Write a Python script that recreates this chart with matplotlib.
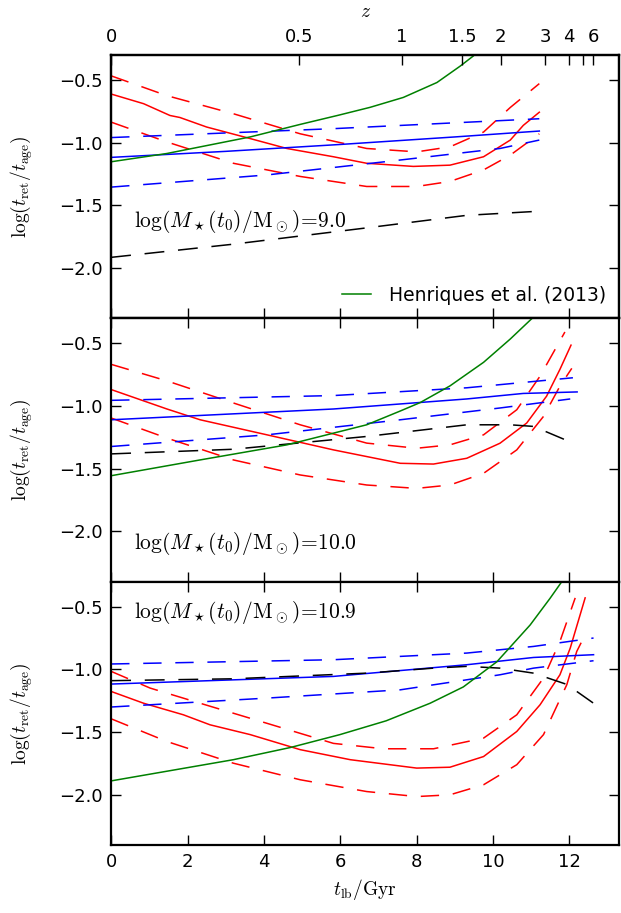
import numpy as np
import matplotlib
matplotlib.use("Agg")
import matplotlib.pyplot as plt

plt.rcParams['mathtext.fontset'] = 'cm'
plt.rcParams['font.family'] = ['DejaVu Sans']

# ---------------- data ----------------
mass_labels = ['9.0', '10.0', '10.9']
label_y = [-1.63, -2.10, -0.55]

# Panel 1: log M = 9.0
p1_red_t = [0, 0.85, 1.54, 1.8, 2.5, 3.64, 4.6, 5.82, 6.69, 7.91, 8.87, 9.75, 10.45, 10.79, 11.21]
p1_red = [-0.613, -0.69, -0.784, -0.80, -0.876, -0.968, -1.047, -1.113, -1.165, -1.19, -1.18, -1.113, -0.98, -0.863, -0.758]
p1_redd_t = [0, 1.46, 3.2, 4.95, 6.69, 8.0, 8.87, 9.75, 10.45, 11.21]
p1_red_hi = [-0.468, -0.626, -0.77, -0.93, -1.047, -1.074, -1.034, -0.916, -0.72, -0.53]
p1_red_lo = [-0.837, -0.995, -1.165, -1.27, -1.35, -1.35, -1.31, -1.218, -1.10, -0.93]
p1_blue_t = [0, 3, 6, 9, 11.21]
p1_blue = [-1.118, -1.07, -1.015, -0.955, -0.908]
p1_blue_hi_t = [0, 5.82, 11.21]
p1_blue_hi = [-0.96, -0.889, -0.81]
p1_blue_lo_t = [0, 4.08, 7.57, 10.18, 11.21]
p1_blue_lo = [-1.355, -1.258, -1.139, -1.047, -0.98]
p1_black_t = [0, 3.2, 6.69, 9.31, 11.21]
p1_black = [-1.915, -1.81, -1.68, -1.58, -1.547]
p1_green_t = [0, 1.46, 3.64, 4.95, 5.95, 6.78, 7.65, 8.53, 9.14, 9.48]
p1_green = [-1.153, -1.087, -0.955, -0.855, -0.782, -0.719, -0.64, -0.521, -0.39, -0.31]

# Panel 2: log M = 10.0
p2_red_t = [0, 1.46, 2.33, 4.08, 5.82, 7.57, 8.44, 9.31, 10.18, 10.88, 11.4, 11.75, 12.04]
p2_red = [-0.869, -1.024, -1.11, -1.23, -1.35, -1.457, -1.463, -1.417, -1.297, -1.136, -0.922, -0.708, -0.515]
p2_red_hi_t = [0, 1.46, 3.2, 4.95, 6.69, 8.0, 8.87, 9.75, 10.62, 11.23, 11.88]
p2_red_hi = [-0.668, -0.80, -0.976, -1.15, -1.296, -1.337, -1.31, -1.23, -1.03, -0.762, -0.41]
p2_red_lo_t = [0, 1.46, 3.2, 4.95, 6.69, 8.0, 8.87, 9.75, 10.62, 11.32, 11.75, 12.06]
p2_red_lo = [-1.096, -1.256, -1.43, -1.55, -1.63, -1.657, -1.63, -1.537, -1.35, -1.083, -0.842, -0.70]
p2_blue_t = [0, 5.82, 9.31, 10.79, 12.2]
p2_blue = [-1.11, -1.024, -0.944, -0.90, -0.888]
p2_blue_hi_t = [0, 5.82, 9.31, 12.09]
p2_blue_hi = [-0.955, -0.917, -0.855, -0.775]
p2_blue_lo_t = [0, 4.08, 7.57, 10.18, 12.02]
p2_blue_lo = [-1.323, -1.23, -1.11, -1.016, -0.944]
p2_black_t = [0, 3.2, 6.69, 9.31, 10.45, 11.06, 11.97]
p2_black = [-1.382, -1.345, -1.243, -1.15, -1.15, -1.163, -1.28]
p2_green_t = [0, 2.33, 4.6, 6.69, 7.57, 8.09, 8.87, 9.75, 10.45, 11.06]
p2_green = [-1.556, -1.43, -1.31, -1.15, -1.04, -0.973, -0.84, -0.652, -0.466, -0.29]

# Panel 3: log M = 10.9
p3_red_t = [0, 0.85, 1.89, 2.59, 3.64, 4.95, 6.26, 8.0, 8.87, 9.75, 10.62, 11.23, 11.75, 12.02, 12.41]
p3_red = [-1.176, -1.27, -1.362, -1.442, -1.52, -1.64, -1.72, -1.787, -1.78, -1.695, -1.495, -1.282, -1.043, -0.83, -0.43]
p3_red_hi_t = [0, 1.02, 2.33, 4.08, 5.82, 7.13, 8.44, 9.75, 10.62, 11.32, 11.75, 12.15]
p3_red_hi = [-1.016, -1.149, -1.27, -1.43, -1.59, -1.633, -1.633, -1.548, -1.362, -1.069, -0.777, -0.43]
p3_red_lo_t = [0, 1.46, 3.2, 4.95, 6.69, 8.0, 8.87, 9.75, 10.62, 11.32, 11.93, 12.19, 12.45]
p3_red_lo = [-1.394, -1.575, -1.748, -1.88, -1.974, -2.014, -2.0, -1.92, -1.76, -1.52, -1.122, -0.857, -0.70]
p3_blue_t = [0, 5.82, 9.31, 11.06, 12.63]
p3_blue = [-1.117, -1.056, -0.963, -0.905, -0.883]
p3_blue_hi_t = [0, 5.82, 9.31, 11.06, 12.63]
p3_blue_hi = [-0.957, -0.923, -0.87, -0.817, -0.75]
p3_blue_lo_t = [0, 4.08, 7.57, 10.18, 11.06, 12.63]
p3_blue_lo = [-1.30, -1.229, -1.163, -1.043, -0.99, -0.931]
p3_black_t = [0, 3.2, 6.69, 8.44, 9.31, 10.18, 11.06, 11.93, 12.63]
p3_black = [-1.09, -1.075, -1.03, -0.99, -0.976, -0.99, -1.03, -1.12, -1.27]
p3_green_t = [0, 3.2, 4.69, 5.99, 7.2, 8.35, 9.22, 10.1, 10.97, 11.49, 11.8]
p3_green = [-1.889, -1.72, -1.623, -1.52, -1.41, -1.27, -1.14, -0.939, -0.646, -0.434, -0.3]

x_ticks = [0, 2, 4, 6, 8, 10, 12]
y_ticks = [-2.0, -1.5, -1.0, -0.5]
z_ticks = [0, 0.5, 1, 1.5, 2, 3, 4, 5, 6]
z_labels = ['0', '0.5', '1', '1.5', '2', '3', '4', '', '6']

# cosmology for the redshift axis (Millennium-like)
H0, Om, OL = 73.0, 0.25, 0.75


def lookback(z):
    zz = np.linspace(0, z, 2001)
    f = 1.0 / ((1 + zz) * np.sqrt(Om * (1 + zz) ** 3 + OL))
    return 977.8 / H0 * np.trapezoid(f, zz)


panels = [
    (p1_red_t, p1_red, p1_redd_t, p1_red_hi, p1_redd_t, p1_red_lo, p1_blue_t, p1_blue,
     p1_blue_hi_t, p1_blue_hi, p1_blue_lo_t, p1_blue_lo, p1_black_t, p1_black, p1_green_t, p1_green),
    (p2_red_t, p2_red, p2_red_hi_t, p2_red_hi, p2_red_lo_t, p2_red_lo, p2_blue_t, p2_blue,
     p2_blue_hi_t, p2_blue_hi, p2_blue_lo_t, p2_blue_lo, p2_black_t, p2_black, p2_green_t, p2_green),
    (p3_red_t, p3_red, p3_red_hi_t, p3_red_hi, p3_red_lo_t, p3_red_lo, p3_blue_t, p3_blue,
     p3_blue_hi_t, p3_blue_hi, p3_blue_lo_t, p3_blue_lo, p3_black_t, p3_black, p3_green_t, p3_green),
]

fig = plt.figure(figsize=(6.21, 9.13), dpi=100)
fig.subplots_adjust(left=0.179, right=0.997, top=0.94, bottom=0.0745, hspace=0)
axes = fig.subplots(3, 1, sharex=True)

dash = (12, 9)
RED, BLUE, GREEN = '#ff0000', '#0000ff', '#008000'
LW = 1.1

for i, (ax, d) in enumerate(zip(axes, panels)):
    (rt, r, rht, rh, rlt, rl, bt, b, bht, bh, blt, bl, kt, k, gt, g) = d
    ax.plot(rt, r, color=RED, lw=LW)
    ax.plot(rht, rh, color=RED, lw=LW, dashes=dash)
    ax.plot(rlt, rl, color=RED, lw=LW, dashes=dash)
    ax.plot(bt, b, color=BLUE, lw=LW)
    ax.plot(bht, bh, color=BLUE, lw=LW, dashes=dash)
    ax.plot(blt, bl, color=BLUE, lw=LW, dashes=dash)
    ax.plot(kt, k, color='k', lw=LW, dashes=(13, 9))
    ax.plot(gt, g, color=GREEN, lw=LW, label='Henriques et al. (2013)')
    ax.set_xlim(0, 13.3)
    ax.set_ylim(-2.4, -0.3)
    ax.set_yticks(y_ticks)
    ax.set_yticklabels(['\u22122.0', '\u22121.5', '\u22121.0', '\u22120.5'])
    ax.set_xticks(x_ticks)
    ax.tick_params(direction='in', length=7, width=1, labelsize=13,
                   top=(i != 0), right=True, pad=6)
    for s in ax.spines.values():
        s.set_linewidth(1.6)
    ax.set_ylabel(r'$\log(t_{\rm ret}/t_{\rm age})$', fontsize=14, labelpad=17)
    ax.text(0.6, label_y[i], r'$\log(M_\star(t_0)/\mathrm{M}_\odot)\!=\!' + mass_labels[i] + '$',
            fontsize=15.5, va='center', ha='left')
    if i == 0:
        ax.legend(loc='lower right', frameon=False, fontsize=13.5, handlelength=1.55,
                  handletextpad=0.95, borderaxespad=0.3)

axes[2].set_xticklabels([str(v) for v in x_ticks])
axes[2].set_xlabel(r'$t_{\rm lb}/\mathrm{Gyr}$', fontsize=14)

top = axes[0].twiny()
top.set_xlim(axes[0].get_xlim())
top.set_xticks([lookback(z) for z in z_ticks])
top.set_xticklabels(z_labels)
top.tick_params(direction='in', length=7, width=1, labelsize=13, pad=6)
top.set_xlabel(r'$z$', fontsize=14, labelpad=8)
for s in top.spines.values():
    s.set_linewidth(1.6)

fig.savefig('out.png', dpi=100)
